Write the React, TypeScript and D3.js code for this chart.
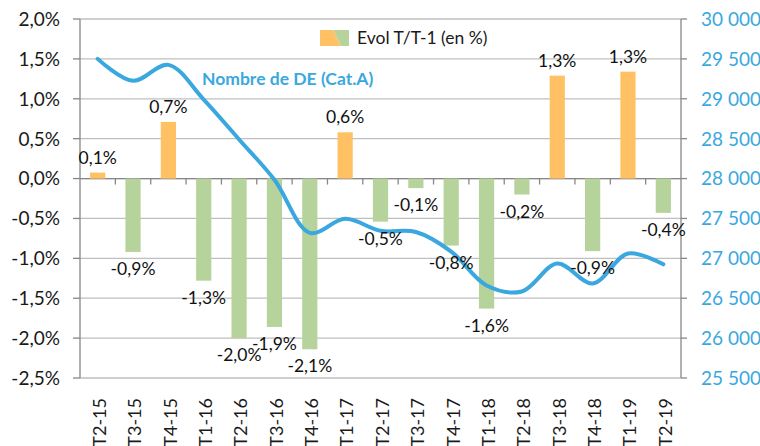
import * as d3 from "d3";

// quarters, bars = evol T/T-1 (%), line = nombre de DE cat. A
const quarters = ["T2-15", "T3-15", "T4-15", "T1-16", "T2-16", "T3-16", "T4-16", "T1-17", "T2-17",
    "T3-17", "T4-17", "T1-18", "T2-18", "T3-18", "T4-18", "T1-19", "T2-19"];
const evolPct = [0.075, -0.92, 0.71, -1.28, -2.0, -1.86, -2.14, 0.58, -0.54,
    -0.12, -0.84, -1.63, -0.2, 1.29, -0.91, 1.34, -0.43];
const nbDE = [29500, 29225, 29425, 28990, 28490, 27985, 27320, 27495, 27345,
    27330, 27085, 26660, 26585, 26935, 26685, 27060, 26925];
const leftTicks = [-2.5, -2, -1.5, -1, -0.5, 0, 0.5, 1, 1.5, 2];
const rightTicks = [25500, 26000, 26500, 27000, 27500, 28000, 28500, 29000, 29500, 30000];

const W = 760;
const H = 446;
const FONT = "Lato, 'Noto Sans', sans-serif";
const BLUE = "#3AA8DF";
const ORANGE = "#FFC164";
const GREEN = "#B6D39C";
const GRID = "#BFBFBF";
const AXIS = "#878787";

const fr = d3.formatLocale({decimal: ",", thousands: " ", grouping: [3], currency: ["", "€"], minus: "-"});
const pct = (v: number) => fr.format(".1f")(v) + "%";
const thou = fr.format(",d");

export default function App() {
    const plot = {left: 80, right: 681, top: 19, bottom: 378};

    const x = d3.scaleBand().domain(quarters).range([plot.left, plot.right]).padding(0);
    const step = x.step();
    const barW = step * 0.43;
    const cx = (q: string) => (x(q) as number) + step / 2;

    const yL = d3.scaleLinear().domain([-2.5, 2]).range([plot.bottom, plot.top]);
    const yR = d3.scaleLinear().domain([25500, 30000]).range([plot.bottom, plot.top]);

    const line = d3
        .line<number>()
        .x((_, i) => cx(quarters[i]))
        .y((d) => yR(d))
        .curve(d3.curveCatmullRom.alpha(0.5));

    const y0 = yL(0);

    return (
        <svg width={W} height={H} style={{position: "absolute", left: 0, top: 0, background: "#fff"}}
            fontFamily={FONT}>
            {/* gridlines */}
            {leftTicks.map((t) => (
                <line key={"g" + t} x1={plot.left} x2={plot.right} y1={yL(t)} y2={yL(t)}
                    stroke={GRID} strokeWidth={1.3} />
            ))}

            {/* axes */}
            <line x1={plot.left} x2={plot.left} y1={plot.top} y2={plot.bottom} stroke={AXIS} strokeWidth={1.3} />
            <line x1={plot.right} x2={plot.right} y1={plot.top} y2={plot.bottom} stroke={AXIS} strokeWidth={1.3} />
            <line x1={plot.left} x2={plot.right} y1={y0} y2={y0} stroke={AXIS} strokeWidth={1.3} />
            {leftTicks.map((t) => (
                <g key={"l" + t}>
                    <line x1={plot.left - 7} x2={plot.left} y1={yL(t)} y2={yL(t)} stroke={AXIS} strokeWidth={1.3} />
                    <text x={plot.left - 20} y={yL(t)} dy="0.36em" textAnchor="end" fontSize={19} fill="#1a1a1a">
                        {pct(t)}
                    </text>
                </g>
            ))}
            {rightTicks.map((t) => (
                <g key={"r" + t}>
                    <line x1={plot.right} x2={plot.right + 6} y1={yR(t)} y2={yR(t)} stroke={AXIS} strokeWidth={1.3} />
                    <text x={plot.right + 20} y={yR(t)} dy="0.36em" fontSize={19} fill={BLUE}>
                        {thou(t)}
                    </text>
                </g>
            ))}
            {quarters.slice(1).map((q) => (
                <line key={"t" + q} x1={x(q)} x2={x(q)} y1={y0} y2={y0 + 6} stroke={AXIS} strokeWidth={1.3} />
            ))}
            {quarters.map((q) => (
                <text key={"x" + q} transform={`translate(${cx(q) + 2},${plot.bottom + 20}) rotate(-90)`}
                    dy="0.35em" textAnchor="end" fontSize={18} fill="#1a1a1a">
                    {q}
                </text>
            ))}

            {/* bars */}
            {evolPct.map((v, i) => (
                <rect key={"b" + i} x={cx(quarters[i]) - barW / 2} width={barW}
                    y={v >= 0 ? yL(v) : y0} height={Math.abs(yL(v) - y0)}
                    fill={v >= 0 ? ORANGE : GREEN} />
            ))}

            {/* line */}
            <path d={line(nbDE) ?? ""} fill="none" stroke={BLUE} strokeWidth={4} strokeLinecap="round" />

            {/* data labels */}
            {evolPct.map((v, i) => (
                <text key={"d" + i} x={cx(quarters[i])} y={v >= 0 ? yL(v) - 9 : yL(v) + 23}
                    textAnchor="middle" fontSize={17.5} fill="#111">
                    {pct(v)}
                </text>
            ))}

            {/* legend */}
            <polygon points="320,30 333,30 341,46 320,46" fill={ORANGE} />
            <polygon points="333,30 349,30 349,46 341,46" fill={GREEN} />
            <text x={357} y={44} fontSize={17.5} fill="#1a1a1a">Evol T/T-1 (en %)</text>

            <text x={202} y={85} fontSize={17.5} fontWeight="bold" fill={BLUE}>Nombre de DE (Cat.A)</text>
        </svg>
    );
}
